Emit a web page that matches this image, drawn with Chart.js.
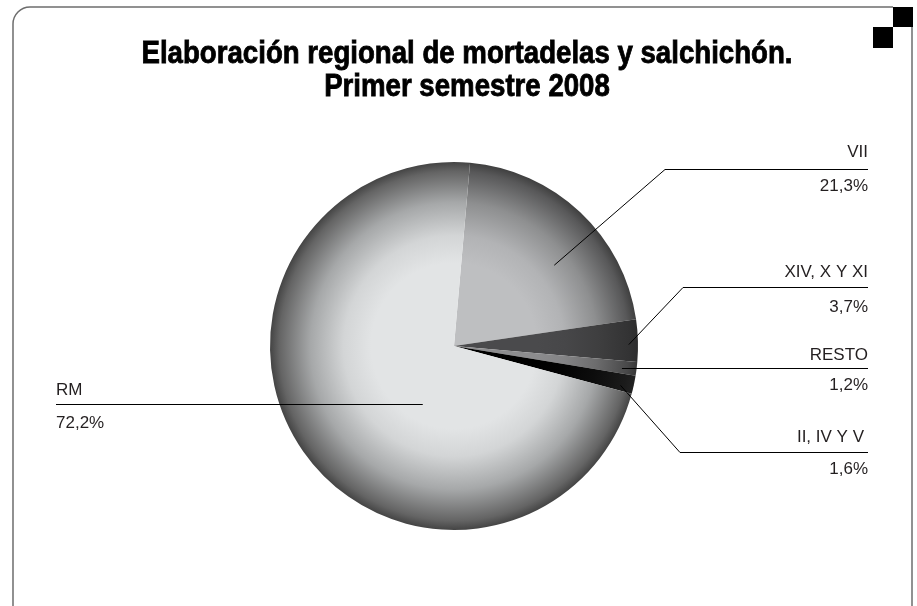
<!DOCTYPE html>
<html lang="es">
<head>
<meta charset="utf-8">
<title>Elaboración regional de mortadelas y salchichón</title>
<script src="https://cdn.jsdelivr.net/npm/chart.js@4.4.1/dist/chart.umd.min.js"></script>
<style>
  html, body { margin: 0; padding: 0; background: #fff; }
  #wrap { width: 917px; height: 606px; position: relative; }
</style>
</head>
<body>
<div id="wrap"><canvas id="chart" width="917" height="606"></canvas></div>
<script>
// data (percentages)
const regions = ["VII", "XIV, X Y XI", "RESTO", "II, IV Y V", "RM"];
const shares = [21.3, 3.7, 1.2, 1.6, 72.2];
const baseColors = ["#bebfc1", "#4a4a4c", "#8c8c8e", "#000000", "#e2e4e5"];

const titleLines = ["Elaboración regional de mortadelas y salchichón.", "Primer semestre 2008"];

// label placement: side, name/line/pct y, where the underline starts, and where
// the leader meets the slice (angle offset from slice middle, fraction of radius)
const labelLayout = [
  { side: "right", nameY: 152, lineY: 169, pctY: 186, lineX: 665, offset: 7.8, frac: 0.70 },
  { side: "right", nameY: 272, lineY: 287, pctY: 307, lineX: 683, offset: 1.2, frac: 0.95 },
  { side: "right", nameY: 355, lineY: 368, pctY: 385.5, lineX: null, offset: 0, frac: 0.92 },
  { side: "right", nameY: 437, lineY: 452, pctY: 469.5, lineX: 680, offset: 1.1, frac: 0.93 },
  { side: "left", nameY: 390, lineY: 404, pctY: 423.5, lineX: null, offset: -26.9, frac: 0.36 },
];

const $ = (id) => document.getElementById(id);
const fmtPct = (v) => v.toFixed(1).replace(".", ",") + "%";

function hexToRgb(hex) {
  const n = parseInt(hex.slice(1), 16);
  return [(n >> 16) & 255, (n >> 8) & 255, n & 255];
}

// sphere-like shading: each slice darkens toward the rim
const shadeStops = [[0, 0], [0.45, 0], [0.6, 0.08], [0.78, 0.32], [0.95, 0.68], [1, 0.85]];
const gradientCache = {};

function sliceFill(ctx) {
  const chart = ctx.chart;
  const area = chart.chartArea;
  const base = baseColors[ctx.dataIndex];
  if (!area) return base;
  const key = base + area.left + area.top;
  if (gradientCache[key]) return gradientCache[key];
  const cx = (area.left + area.right) / 2;
  const cy = (area.top + area.bottom) / 2;
  const r = Math.min(area.right - area.left, area.bottom - area.top) / 2;
  const g = chart.ctx.createRadialGradient(cx, cy, 0, cx, cy, r);
  const rgb = hexToRgb(base);
  shadeStops.forEach(([t, a]) => {
    const c = rgb.map((v) => Math.round(v * (1 - a) + 40 * a));
    g.addColorStop(t, `rgb(${c[0]},${c[1]},${c[2]})`);
  });
  gradientCache[key] = g;
  return g;
}

function roundFrame(ctx) {
  const l = 13, t = 7, r = 912, b = 640, rad = 17;
  ctx.save();
  ctx.fillStyle = "#fff";
  ctx.fillRect(0, 0, 917, 606);
  ctx.strokeStyle = "#6d6d6d";
  ctx.lineWidth = 1.5;
  ctx.beginPath();
  ctx.moveTo(893, t);
  ctx.lineTo(l + rad, t);
  ctx.arcTo(l, t, l, t + rad, rad);
  ctx.lineTo(l, b - rad);
  ctx.arcTo(l, b, l + rad, b, rad);
  ctx.lineTo(r - rad, b);
  ctx.arcTo(r, b, r, b - rad, rad);
  ctx.lineTo(r, 27);
  ctx.stroke();
  ctx.fillStyle = "#000";
  ctx.fillRect(893, 7, 20, 20);
  ctx.fillRect(873, 27, 20, 21);
  ctx.restore();
}

function drawTitle(ctx) {
  ctx.save();
  ctx.fillStyle = "#000";
  ctx.font = "bold 30px 'Liberation Sans', Arial, sans-serif";
  ctx.textAlign = "center";
  ctx.textBaseline = "alphabetic";
  const w = ctx.measureText(titleLines[0]).width;
  const sx = 651 / w;
  const cx = 467;
  [63, 96].forEach((y, i) => {
    ctx.save();
    ctx.translate(cx, y);
    ctx.scale(sx, 1.02);
    ctx.fillText(titleLines[i], 0, 0);
    ctx.lineWidth = 0.8;
    ctx.strokeStyle = "#000";
    ctx.strokeText(titleLines[i], 0, 0);
    ctx.restore();
  });
  ctx.restore();
}

function drawLabels(chart) {
  const ctx = chart.ctx;
  const meta = chart.getDatasetMeta(0);
  ctx.save();
  ctx.fillStyle = "#231f20";
  ctx.strokeStyle = "#000";
  ctx.lineWidth = 1;
  ctx.font = "17px 'Liberation Sans', Arial, sans-serif";
  ctx.textBaseline = "middle";
  meta.data.forEach((arc, i) => {
    const L = labelLayout[i];
    const ly = Math.round(L.lineY) + 0.5;
    const mid = (arc.startAngle + arc.endAngle) / 2 + (L.offset * Math.PI) / 180;
    const ax = arc.x + Math.cos(mid) * arc.outerRadius * L.frac;
    const ay = arc.y + Math.sin(mid) * arc.outerRadius * L.frac;
    ctx.beginPath();
    if (L.side === "right") {
      const right = 868;
      ctx.textAlign = "right";
      ctx.fillText(regions[i], i === 3 ? 864 : right, L.nameY);
      ctx.fillText(fmtPct(shares[i]), right, L.pctY);
      if (L.lineX === null) {
        ctx.moveTo(ax, ly);
      } else {
        ctx.moveTo(ax, ay);
        ctx.lineTo(L.lineX, ly);
      }
      ctx.lineTo(right, ly);
    } else {
      const left = 56;
      ctx.textAlign = "left";
      ctx.fillText(regions[i], left, L.nameY);
      ctx.fillText(fmtPct(shares[i]), left, L.pctY);
      ctx.moveTo(left, ly);
      ctx.lineTo(ax, ly);
    }
    ctx.stroke();
  });
  ctx.restore();
}

const decor = {
  id: "decor",
  beforeDraw: (chart) => roundFrame(chart.ctx),
  afterDraw: (chart) => {
    drawTitle(chart.ctx);
    drawLabels(chart);
  },
};

new Chart($("chart"), {
  type: "pie",
  data: {
    labels: regions,
    datasets: [
      {
        data: shares,
        backgroundColor: sliceFill,
        borderWidth: 0,
      },
    ],
  },
  options: {
    responsive: false,
    animation: false,
    rotation: 5,
    layout: { padding: { top: 162, bottom: 76, left: 270, right: 279 } },
    plugins: {
      legend: { display: false },
      tooltip: { enabled: false },
      title: { display: false },
    },
  },
  plugins: [decor],
});
</script>
</body>
</html>
